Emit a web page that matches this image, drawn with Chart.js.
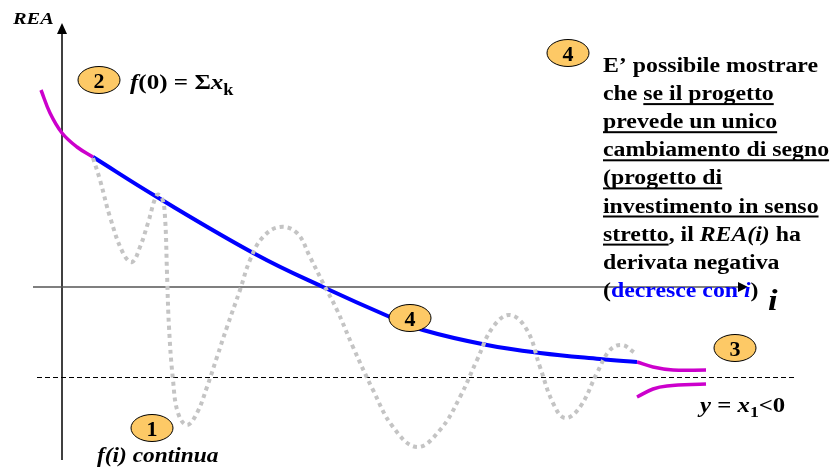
<!DOCTYPE html>
<html>
<head>
<meta charset="utf-8">
<script src="https://cdn.jsdelivr.net/npm/chart.js@4.4.1/dist/chart.umd.min.js"></script>
<style>
    html, body { margin: 0; padding: 0; background: #fff; }
    #wrap { width: 834px; height: 472px; }
</style>
</head>
<body>
<div id="wrap"><canvas id="chart" width="834" height="472"></canvas></div>
<script>
// curve values, i on x, REA on y (origin at the axes crossing)
const magentaLeftI = [-0.21, -0.12, 0, 0.15, 0.31];
const magentaLeftREA = [1.97, 1.74, 1.54, 1.40, 1.30];

const blueI = [0.31, 0.95, 1.95, 2.61, 3.28, 3.61, 4.25, 4.78, 5.38, 5.75];
const blueREA = [1.30, 0.90, 0.32, 0, -0.30, -0.43, -0.58, -0.66, -0.72, -0.75];

const magentaUpperI = [5.75, 5.91, 6.11, 6.44];
const magentaUpperREA = [-0.75, -0.80, -0.83, -0.83];
const magentaLowerI = [5.75, 5.91, 6.05, 6.44];
const magentaLowerREA = [-1.10, -1.02, -0.99, -0.97];

const grayI = [0.31, 0.38, 0.48, 0.61, 0.70, 0.78, 0.86, 0.95, 1.00, 1.03, 1.05, 1.07, 1.11, 1.16, 1.25, 1.35, 1.45, 1.55, 1.65, 1.78, 1.88, 2.01, 2.18, 2.35, 2.48, 2.61, 2.75, 2.91, 3.11, 3.31, 3.55, 3.78, 3.98, 4.15, 4.31, 4.48, 4.65, 4.78, 4.91, 5.03, 5.18, 5.35, 5.48, 5.60, 5.73];
const grayREA = [1.29, 1.07, 0.70, 0.34, 0.25, 0.40, 0.64, 0.92, 0.89, 0.70, 0.14, -0.40, -0.93, -1.26, -1.38, -1.26, -1.00, -0.70, -0.40, -0.03, 0.27, 0.50, 0.60, 0.54, 0.30, 0.04, -0.23, -0.60, -1.03, -1.40, -1.60, -1.43, -1.10, -0.73, -0.40, -0.28, -0.43, -0.80, -1.16, -1.31, -1.20, -0.86, -0.63, -0.58, -0.66];

const asymptote = -0.90; // y = x1
const dashFrom = -0.25, dashTo = 7.33;

// numbered markers: [label, i, REA]
const markers = [
    ['2', 0.37, 2.07],
    ['4', 5.06, 2.34],
    ['4', 3.48, -0.31],
    ['3', 6.73, -0.61],
    ['1', 0.90, -1.41],
];

// right-hand text block, each line is a list of runs
const noteLines = [
    [{ t: 'E\u2019 possibile mostrare' }],
    [{ t: 'che ' }, { t: 'se il progetto', u: true }],
    [{ t: 'prevede un unico', u: true }],
    [{ t: 'cambiamento di segno', u: true }],
    [{ t: '(progetto di', u: true }],
    [{ t: 'investimento in senso', u: true }],
    [{ t: 'stretto', u: true }, { t: ', il ' }, { t: 'REA(i)', it: true }, { t: ' ha' }],
    [{ t: 'derivata negativa' }],
    [{ t: '(' }, { t: 'decresce con ', c: '#0000ff' }, { t: 'i', it: true, c: '#0000ff' }, { t: ')' }],
];

const pts = (xs, ys) => xs.map((x, k) => ({ x: x, y: ys[k] }));
const SERIF = '"Liberation Serif", "DejaVu Serif", serif';

// draws bold serif runs, stretched a little wider like the original slide font
function runs(ctx, x, y, list, size, stretch) {
    const sx = stretch || 1.18;
    ctx.save();
    ctx.translate(x, y);
    ctx.scale(sx, 1);
    let cx = 0;
    for (const r of list) {
        const sz = r.sub ? Math.round(size * 0.72) : size;
        ctx.font = `${r.it ? 'italic ' : ''}bold ${sz}px ${SERIF}`;
        ctx.fillStyle = r.c || '#000';
        const dy = r.sub ? size * 0.25 : 0;
        ctx.fillText(r.t, cx, dy);
        const w = ctx.measureText(r.t).width;
        if (r.u) {
            ctx.fillRect(cx, 3, w, 2);
        }
        cx += w;
    }
    ctx.restore();
}

const overlay = {
    id: 'overlay',
    beforeDatasetsDraw(chart) {
        const { ctx, scales } = chart;
        const x0 = scales.x.getPixelForValue(0);
        const y0 = scales.y.getPixelForValue(0);
        ctx.save();
        // vertical axis (REA)
        ctx.strokeStyle = '#000';
        ctx.lineWidth = 1.5;
        ctx.beginPath();
        ctx.moveTo(x0, scales.y.getPixelForValue(-1.73));
        ctx.lineTo(x0, scales.y.getPixelForValue(2.55));
        ctx.stroke();
        ctx.fillStyle = '#000';
        ctx.beginPath();
        const ty = scales.y.getPixelForValue(2.64);
        ctx.moveTo(x0, ty);
        ctx.lineTo(x0 - 5, ty + 11);
        ctx.lineTo(x0 + 5, ty + 11);
        ctx.closePath();
        ctx.fill();
        // horizontal axis (i)
        ctx.strokeStyle = '#555';
        ctx.beginPath();
        ctx.moveTo(scales.x.getPixelForValue(-0.29), y0);
        ctx.lineTo(scales.x.getPixelForValue(6.80), y0);
        ctx.stroke();
        ctx.fillStyle = '#000';
        const tx = scales.x.getPixelForValue(6.86);
        ctx.beginPath();
        ctx.moveTo(tx, y0);
        ctx.lineTo(tx - 10, y0 - 5);
        ctx.lineTo(tx - 10, y0 + 5);
        ctx.closePath();
        ctx.fill();
        // asymptote
        const ya = scales.y.getPixelForValue(asymptote);
        ctx.strokeStyle = '#000';
        ctx.lineWidth = 1;
        ctx.setLineDash([5, 3]);
        ctx.beginPath();
        ctx.moveTo(scales.x.getPixelForValue(dashFrom), ya + 0.5);
        ctx.lineTo(scales.x.getPixelForValue(dashTo), ya + 0.5);
        ctx.stroke();
        ctx.restore();
    },
    afterDatasetsDraw(chart) {
        const { ctx, scales } = chart;
        const px = (v) => scales.x.getPixelForValue(v);
        const py = (v) => scales.y.getPixelForValue(v);
        ctx.save();
        ctx.textBaseline = 'alphabetic';
        ctx.textAlign = 'left';

        for (const [label, i, rea] of markers) {
            const cx = px(i), cy = py(rea);
            ctx.beginPath();
            ctx.ellipse(cx, cy, 21, 13.5, 0, 0, Math.PI * 2);
            ctx.fillStyle = '#fdc966';
            ctx.fill();
            ctx.strokeStyle = '#000';
            ctx.lineWidth = 1;
            ctx.stroke();
            ctx.font = `bold 22px ${SERIF}`;
            ctx.fillStyle = '#000';
            ctx.textAlign = 'center';
            ctx.fillText(label, cx, cy + 7.5);
            ctx.textAlign = 'left';
        }

        runs(ctx, 13, 24, [{ t: 'REA', it: true }], 17, 1.2);
        runs(ctx, 130, 89, [{ t: 'f', it: true }, { t: '(0) = \u03A3' }, { t: 'x', it: true }, { t: 'k', sub: true }], 22, 1.14);
        runs(ctx, 97, 462, [{ t: 'f(i) continua', it: true }], 20, 1.17);
        runs(ctx, 700, 412, [{ t: 'y', it: true }, { t: ' = ' }, { t: 'x', it: true }, { t: '1', sub: true }, { t: '<0' }], 21, 1.18);
        runs(ctx, 768, 310, [{ t: 'i', it: true }], 30, 1.15);

        noteLines.forEach((line, k) => runs(ctx, 603, 72 + k * 28.1, line, 20, 1.19));
        ctx.restore();
    },
};

const line = (data, color, width, extra) => Object.assign({
    data: data,
    showLine: true,
    borderColor: color,
    borderWidth: width,
    pointRadius: 0,
    tension: 0.4,
    fill: false,
}, extra || {});

new Chart(document.getElementById('chart'), {
    type: 'scatter',
    data: {
        datasets: [
            line(pts(grayI, grayREA), '#c4c4c4', 4, { borderDash: [4, 4], borderCapStyle: 'butt' }),
            line(pts(magentaLeftI, magentaLeftREA), '#cc00cc', 3.5),
            line(pts(blueI, blueREA), '#0000ff', 4),
            line(pts(magentaUpperI, magentaUpperREA), '#cc00cc', 3.5),
            line(pts(magentaLowerI, magentaLowerREA), '#cc00cc', 3.5),
        ],
    },
    options: {
        responsive: false,
        animation: false,
        layout: { padding: 0 },
        scales: {
            x: { type: 'linear', min: -0.62, max: 7.72, display: false },
            y: { type: 'linear', min: -1.85, max: 2.87, display: false },
        },
        plugins: {
            legend: { display: false },
            tooltip: { enabled: false },
        },
    },
    plugins: [overlay],
});
</script>
</body>
</html>
